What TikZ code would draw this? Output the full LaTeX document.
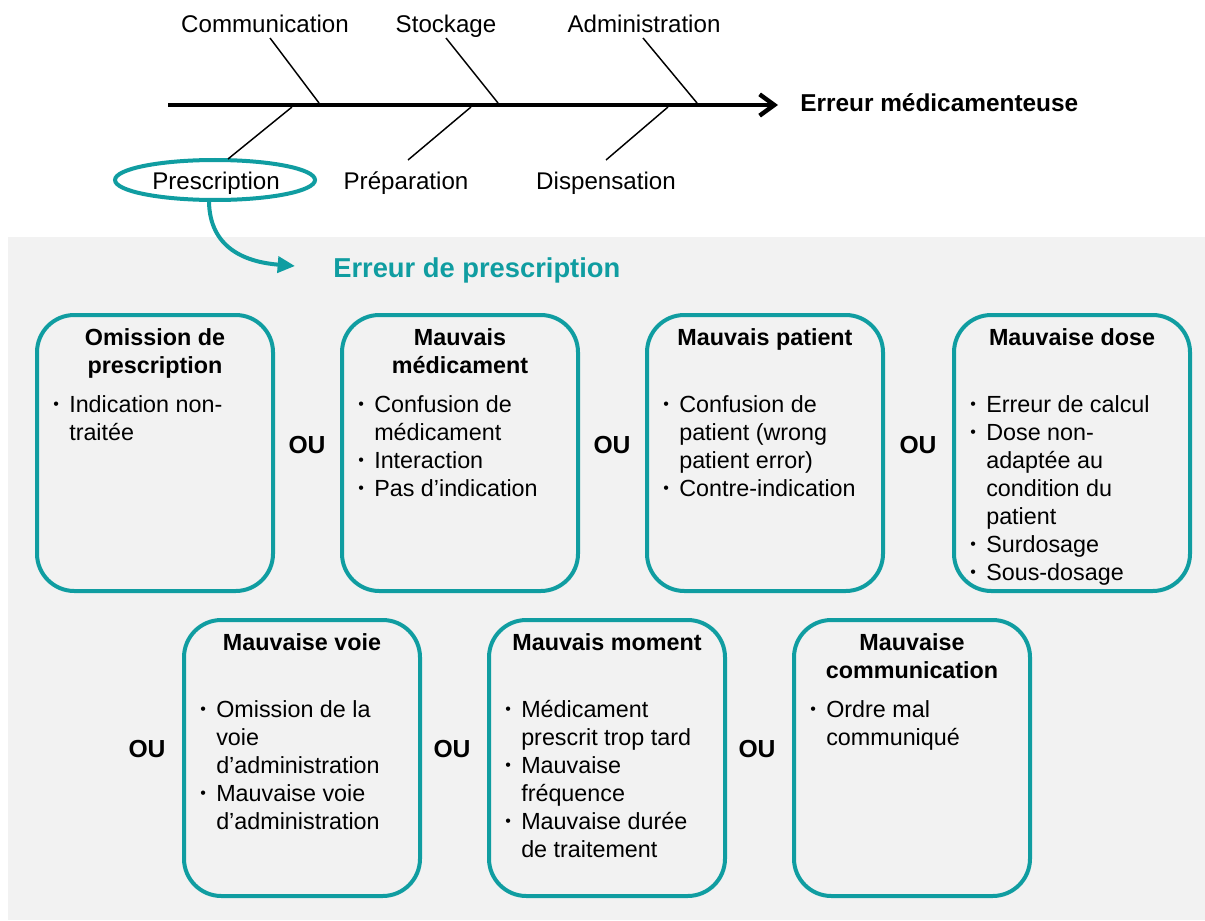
\documentclass[tikz,border=0pt]{standalone}
\usepackage{fontspec}
\setmainfont{Liberation Sans}
\usetikzlibrary{arrows.meta,shapes.geometric}
\definecolor{tealline}{RGB}{16,157,161}
\definecolor{panelgray}{RGB}{242,242,242}
\newcommand\bodyfont{\fontsize{17.5}{21}\selectfont}
\newcommand\bu{\makebox[12.75pt][l]{\hspace{0.9pt}\raisebox{1.9pt}{\fontsize{12}{12}\selectfont •}}}
\newcommand\ind{\hspace*{12.75pt}}
% one error category: frame, bold title and bullet list
\newcommand\errcard[5]{%
  \node[card] (#1) at (#2+120,#3+140) {};
  \node[cardtitle] (#1-title) at (#2+120,#3+32) {\begin{tabular}[t]{@{}c@{}}#4\end{tabular}};
  \node[cardlist] (#1-list) at (#2+17,#3+99) {\begin{tabular}[t]{@{}l@{}}#5\end{tabular}};
}
\begin{document}
\begin{tikzpicture}[x=0.75pt,y=-0.75pt,
  lbl/.style={inner sep=0,anchor=base,font=\fontsize{18.1}{21}\selectfont},
  branch/.style={line width=1.1pt},
  spine/.style={line width=3.3pt,-{Straight Barb[length=11pt,width=16pt]}},
  card/.style={draw=tealline,line width=3pt,rounded corners=28pt,inner sep=0,
    minimum width=177pt,minimum height=207pt},
  cardtitle/.style={inner sep=0,anchor=base,font=\bfseries\bodyfont},
  cardlist/.style={inner sep=0,anchor=base west,font=\bodyfont},
  orlabel/.style={inner sep=0,font=\bfseries\fontsize{18.5}{22}\selectfont},
  flow/.style={draw=tealline,line width=3pt,-{Triangle[length=13pt,width=12pt]}}]

\useasboundingbox (0,0) rectangle (1205,920);
\fill[white] (0,0) rectangle (1205,920);
\fill[panelgray] (8,237) rectangle (1205,920);

% fishbone spine and effect
\coordinate (tail) at (168,105);
\coordinate (head) at (778,105);
\draw[spine] (tail) -- (head);
\node[inner sep=0,anchor=base west,font=\bfseries\fontsize{18.3}{22}\selectfont]
  (effect) at (800,112) {Erreur médicamenteuse};

% upper causes
\node[lbl] (communication) at (265,33) {Communication};
\node[lbl] (stockage) at (446,33) {Stockage};
\node[lbl] (administration) at (644,33) {Administration};
\coordinate (comm-a) at (270,38);  \coordinate (comm-b) at (319,103);
\coordinate (stock-a) at (446,38); \coordinate (stock-b) at (498,103);
\coordinate (admin-a) at (643,38); \coordinate (admin-b) at (697,103);
\draw[branch] (comm-a) -- (comm-b);
\draw[branch] (stock-a) -- (stock-b);
\draw[branch] (admin-a) -- (admin-b);

% lower causes
\node[draw=tealline,line width=3pt,ellipse,inner sep=0,minimum width=150pt,minimum height=30pt]
  (presc-ring) at (215,180) {};
\node[lbl] (prescription) at (216,189) {Prescription};
\node[lbl] (preparation) at (406,189) {Préparation};
\node[lbl] (dispensation) at (606,189) {Dispensation};
\coordinate (presc-a) at (228,159); \coordinate (presc-b) at (292,107);
\coordinate (prep-a) at (408,160);  \coordinate (prep-b) at (471,107);
\coordinate (disp-a) at (606,160);  \coordinate (disp-b) at (668,107);
\draw[branch] (presc-a) -- (presc-b);
\draw[branch] (prep-a) -- (prep-b);
\draw[branch] (disp-a) -- (disp-b);

% zoom into the prescription cause
\node[inner sep=0,anchor=base west,text=tealline,font=\bfseries\fontsize{20.5}{24}\selectfont]
  (subtitle) at (333,277) {Erreur de prescription};
\coordinate (flow-start) at (209,202);
\coordinate (flow-end) at (295,266);
\draw[flow] (flow-start) .. controls (210,248) and (245,262) .. (flow-end);

% first row of categories
\errcard{omission}{35}{313}{Omission de\\prescription}
  {\bu Indication non-\\\ind traitée}
\errcard{medicament}{340}{313}{Mauvais\\médicament}
  {\bu Confusion de\\\ind médicament\\\bu Interaction\\\bu Pas d’indication}
\errcard{patient}{645}{313}{Mauvais patient}
  {\bu Confusion de\\\ind patient (wrong\\\ind patient error)\\\bu Contre-indication}
\errcard{dose}{952}{313}{Mauvaise dose}
  {\bu Erreur de calcul\\\bu Dose non-\\\ind adaptée au\\\ind condition du\\\ind patient\\\bu Surdosage\\\bu Sous-dosage}

% second row of categories
\errcard{voie}{182}{618}{Mauvaise voie}
  {\bu Omission de la\\\ind voie\\\ind d’administration\\\bu Mauvaise voie\\\ind d’administration}
\errcard{moment}{487}{618}{Mauvais moment}
  {\bu Médicament\\\ind prescrit trop tard\\\bu Mauvaise\\\ind fréquence\\\bu Mauvaise durée\\\ind de traitement}
\errcard{communic}{792}{618}{Mauvaise\\communication}
  {\bu Ordre mal\\\ind communiqué}

% alternatives between categories
\node[orlabel] (or1) at (307,445) {OU};
\node[orlabel] (or2) at (612,445) {OU};
\node[orlabel] (or3) at (918,445) {OU};
\node[orlabel] (or4) at (147,749) {OU};
\node[orlabel] (or5) at (452,749) {OU};
\node[orlabel] (or6) at (757,749) {OU};
\end{tikzpicture}
\end{document}
